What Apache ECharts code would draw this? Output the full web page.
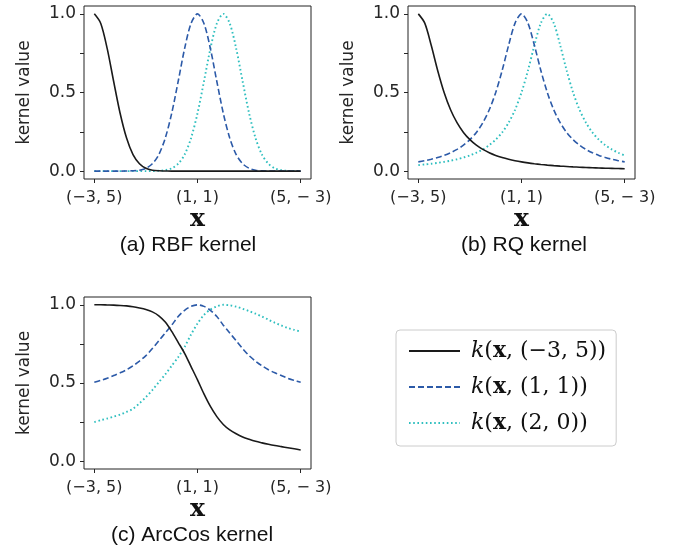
<!DOCTYPE html>
<html>
<head>
<meta charset="utf-8">
<script src="https://cdn.jsdelivr.net/npm/echarts@6/dist/echarts.min.js"></script>
<style>html,body{margin:0;padding:0;background:#fff}#c{width:679px;height:551px}</style>
</head>
<body>
<div id="c"></div>
<script>
// position along the line from (-3,5) to (5,-3), given by the first coordinate
const T = [-3,-2.75,-2.5,-2.25,-2,-1.75,-1.5,-1.25,-1,-0.75,-0.5,-0.25,0,0.25,0.5,0.75,1,1.25,1.5,1.75,2,2.25,2.5,2.75,3,3.25,3.5,3.75,4,4.25,4.5,4.75,5];
const X_TICKS = [-3, 1, 5];
const X_TICK_LABELS = ['(−3, 5)', '(1, 1)', '(5, − 3)'];
const Y_LABELS = [0, 0.5, 1];
const Y_TICKS = [0, 0.25, 0.5, 0.75, 1];
const PANEL_TITLES = ['(a) RBF kernel', '(b) RQ kernel', '(c) ArcCos kernel'];
const SERIES_NAMES = ['k(x,(−3,5))', 'k(x,(1,1))', 'k(x,(2,0))'];

const rbf_a = [1,0.939,0.779,0.570,0.368,0.210,0.105,0.047,0.018,0.006,0.002,0.001,0,0,0,0,0,0,0,0,0,0,0,0,0,0,0,0,0,0,0,0,0];
const rbf_b = [0,0,0,0,0,0.001,0.002,0.006,0.018,0.047,0.105,0.210,0.368,0.570,0.779,0.939,1,0.939,0.779,0.570,0.368,0.210,0.105,0.047,0.018,0.006,0.002,0.001,0,0,0,0,0];
const rbf_c = [0,0,0,0,0,0,0,0,0,0.001,0.002,0.006,0.018,0.047,0.105,0.210,0.368,0.570,0.779,0.939,1,0.939,0.779,0.570,0.368,0.210,0.105,0.047,0.018,0.006,0.002,0.001,0];

const rq_a = [1,0.941,0.8,0.64,0.5,0.39,0.308,0.246,0.2,0.165,0.138,0.117,0.1,0.0865,0.0755,0.0664,0.0588,0.0525,0.0471,0.0424,0.0385,0.035,0.032,0.0294,0.027,0.025,0.0231,0.0215,0.02,0.0187,0.0175,0.0164,0.0154];
const rq_b = [0.0588,0.0664,0.0755,0.0865,0.1,0.117,0.138,0.165,0.2,0.246,0.308,0.39,0.5,0.64,0.8,0.941,1,0.941,0.8,0.64,0.5,0.39,0.308,0.246,0.2,0.165,0.138,0.117,0.1,0.0865,0.0755,0.0664,0.0588];
const rq_c = [0.0385,0.0424,0.0471,0.0525,0.0588,0.0664,0.0755,0.0865,0.1,0.117,0.138,0.165,0.2,0.246,0.308,0.39,0.5,0.64,0.8,0.941,1,0.941,0.8,0.64,0.5,0.39,0.308,0.246,0.2,0.165,0.138,0.117,0.1];

const arc_a = [1,1,0.999,0.998,0.996,0.993,0.988,0.980,0.97,0.955,0.93,0.89,0.83,0.76,0.69,0.605,0.52,0.43,0.35,0.285,0.235,0.2,0.175,0.155,0.14,0.127,0.117,0.108,0.1,0.093,0.086,0.079,0.072];
const arc_b = [0.505,0.517,0.53,0.548,0.565,0.585,0.61,0.64,0.675,0.72,0.77,0.82,0.87,0.925,0.965,0.99,1,0.99,0.965,0.925,0.87,0.82,0.77,0.72,0.675,0.64,0.61,0.585,0.565,0.548,0.53,0.517,0.505];
const arc_c = [0.25,0.262,0.273,0.285,0.298,0.315,0.335,0.37,0.41,0.455,0.505,0.555,0.61,0.665,0.73,0.81,0.88,0.935,0.97,0.99,1,0.997,0.988,0.975,0.96,0.943,0.925,0.905,0.885,0.868,0.852,0.84,0.828];

const PANELS = [[rbf_a, rbf_b, rbf_c], [rq_a, rq_b, rq_c], [arc_a, arc_b, arc_c]];

const TXT = '#262626';
const STYLES = [
  {color: '#1a1a1a', type: 'solid', width: 1.6},
  {color: '#2c5aa8', type: [6, 3], width: 1.6},
  {color: '#2fbfbf', type: [1.6, 2.6], width: 1.9}
];
const GRIDS = [
  {left: 84, top: 6, width: 227, height: 173},
  {left: 408, top: 6, width: 227, height: 173},
  {left: 84, top: 297, width: 227, height: 172}
];

const chart = echarts.init(document.getElementById('c'), null, {renderer: 'canvas'});

const xAxes = GRIDS.map((g, i) => ({
  type: 'value', gridIndex: i, min: -3.4, max: 5.4,
  name: 'x', nameLocation: 'middle', nameGap: 22,
  nameTextStyle: {fontFamily: 'DejaVu Serif', fontWeight: 'bold', fontSize: 25, color: '#111'},
  axisLine: {show: false, onZero: false},
  axisTick: {show: true, inside: false, length: 4, customValues: X_TICKS, lineStyle: {color: TXT, width: 1}},
  axisLabel: {show: true, margin: 11, customValues: X_TICKS, color: TXT, fontFamily: 'DejaVu Sans', fontSize: 16,
    formatter: v => X_TICK_LABELS[X_TICKS.indexOf(v)]},
  splitLine: {show: false}
}));
const yAxes = GRIDS.map((g, i) => ({
  type: 'value', gridIndex: i, min: -0.05, max: 1.05,
  name: 'kernel value', nameLocation: 'middle', nameGap: 51,
  nameTextStyle: {fontFamily: 'DejaVu Sans', fontSize: 17, color: TXT},
  axisLine: {show: false, onZero: false},
  axisTick: {show: true, inside: false, length: 4, customValues: Y_TICKS, lineStyle: {color: TXT, width: 1}},
  axisLabel: {show: true, margin: 8, customValues: Y_LABELS, color: TXT, fontFamily: 'DejaVu Sans', fontSize: 17,
    formatter: v => v.toFixed(1)},
  splitLine: {show: false}
}));

const series = [];
PANELS.forEach((arrs, g) => {
  arrs.forEach((ys, k) => {
    series.push({
      type: 'line', name: SERIES_NAMES[k], xAxisIndex: g, yAxisIndex: g,
      data: T.map((t, j) => [t, ys[j]]),
      symbol: 'none', smooth: 0.3, animation: false, z: 3 - k,
      lineStyle: STYLES[k], itemStyle: {color: STYLES[k].color}
    });
  });
});

const LEG = {
  'k(x,(−3,5))': '{s| }{i|k}{n|(}{b|x}{n|, (−3, 5))}',
  'k(x,(1,1))': '{s| }{i|k}{n|(}{b|x}{n|, (1, 1))}',
  'k(x,(2,0))': '{s| }{i|k}{n|(}{b|x}{n|, (2, 0))}'
};

const TITLE_POS = [[188, 245], [524, 245], [192, 535]];

chart.setOption({
  backgroundColor: '#fff',
  animation: false,
  grid: GRIDS.map(g => Object.assign({show: true, borderColor: '#222', borderWidth: 1, backgroundColor: 'transparent', containLabel: false}, g)),
  xAxis: xAxes,
  yAxis: yAxes,
  legend: {
    left: 396, top: 330, orient: 'vertical', selectedMode: false,
    data: SERIES_NAMES, itemWidth: 51, itemHeight: 14, itemGap: 10,
    padding: [8, 10, 10, 12],
    itemStyle: {opacity: 0},
    backgroundColor: '#fff', borderColor: '#cccccc', borderWidth: 1, borderRadius: 4,
    formatter: n => LEG[n],
    textStyle: {
      color: '#111', lineHeight: 26,
      rich: {
        s: {width: 6, fontSize: 10},
        i: {fontFamily: 'DejaVu Serif', fontStyle: 'italic', fontSize: 22, color: '#111'},
        n: {fontFamily: 'DejaVu Serif', fontSize: 22, color: '#111'},
        b: {fontFamily: 'DejaVu Serif', fontWeight: 'bold', fontSize: 22, color: '#111'}
      }
    }
  },
  graphic: PANEL_TITLES.map((t, i) => ({
    type: 'text', x: TITLE_POS[i][0], y: TITLE_POS[i][1], silent: true,
    style: {text: t, fill: '#111', font: '21px "Liberation Sans", Arial, sans-serif', textAlign: 'center', textVerticalAlign: 'middle'}
  })),
  series: series
});
</script>
</body>
</html>
